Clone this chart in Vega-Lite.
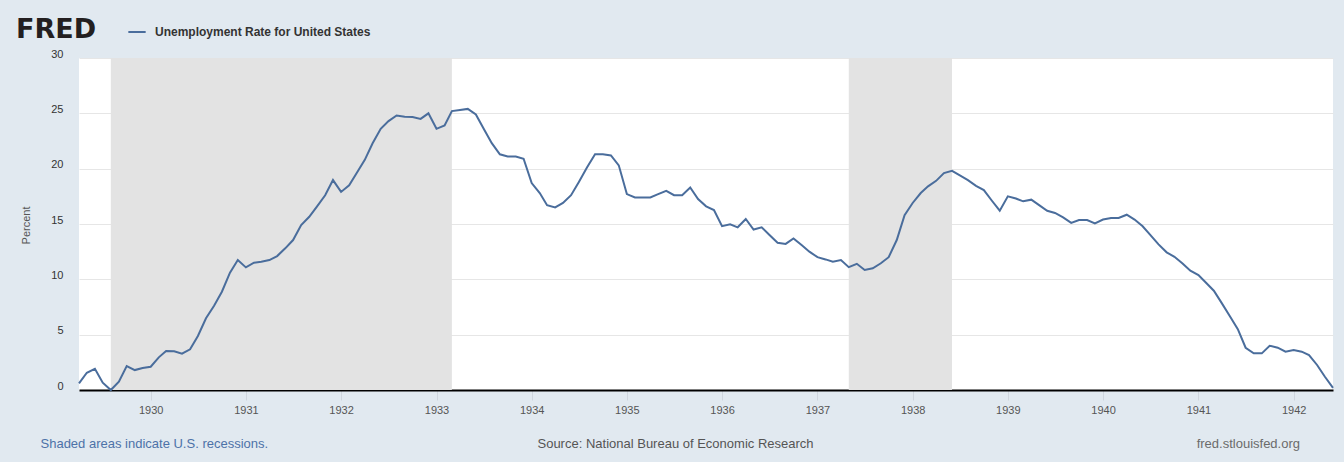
{
  "$schema": "https://vega.github.io/schema/vega-lite/v6.json",
  "width": 1254,
  "height": 332,
  "autosize": {"type": "none"},
  "padding": {"left": 79, "top": 58, "right": 11, "bottom": 72},
  "background": "#e1e9f0",
  "view": {"fill": "#ffffff", "stroke": null},
  "config": {"font": "Liberation Sans"},
  "title": {
    "text": "fred.stlouisfed.org",
    "orient": "bottom",
    "anchor": "end",
    "frame": "group",
    "fontSize": 13,
    "fontWeight": "normal",
    "color": "#6b6b6b",
    "dx": -33,
    "offset": -12
  },
  "datasets": {
    "rec": [
      {"start": "1929-08-01", "end": "1933-03-01"},
      {"start": "1937-05-01", "end": "1938-06-01"}
    ],
    "ur": [
      {"date": "1929-04-01", "value": 0.6},
      {"date": "1929-05-01", "value": 1.56},
      {"date": "1929-06-01", "value": 1.92},
      {"date": "1929-07-01", "value": 0.66},
      {"date": "1929-08-01", "value": 0.0},
      {"date": "1929-09-01", "value": 0.75},
      {"date": "1929-10-01", "value": 2.17},
      {"date": "1929-11-01", "value": 1.8},
      {"date": "1929-12-01", "value": 1.99},
      {"date": "1930-01-01", "value": 2.1},
      {"date": "1930-02-01", "value": 2.95},
      {"date": "1930-03-01", "value": 3.52},
      {"date": "1930-04-01", "value": 3.5},
      {"date": "1930-05-01", "value": 3.28},
      {"date": "1930-06-01", "value": 3.68},
      {"date": "1930-07-01", "value": 4.88},
      {"date": "1930-08-01", "value": 6.48},
      {"date": "1930-09-01", "value": 7.62},
      {"date": "1930-10-01", "value": 8.88},
      {"date": "1930-11-01", "value": 10.6},
      {"date": "1930-12-01", "value": 11.74},
      {"date": "1931-01-01", "value": 11.08},
      {"date": "1931-02-01", "value": 11.5},
      {"date": "1931-03-01", "value": 11.59},
      {"date": "1931-04-01", "value": 11.74},
      {"date": "1931-05-01", "value": 12.1},
      {"date": "1931-06-01", "value": 12.8},
      {"date": "1931-07-01", "value": 13.55},
      {"date": "1931-08-01", "value": 14.9},
      {"date": "1931-09-01", "value": 15.65},
      {"date": "1931-10-01", "value": 16.6},
      {"date": "1931-11-01", "value": 17.6},
      {"date": "1931-12-01", "value": 18.97},
      {"date": "1932-01-01", "value": 17.9},
      {"date": "1932-02-01", "value": 18.5},
      {"date": "1932-03-01", "value": 19.6},
      {"date": "1932-04-01", "value": 20.8},
      {"date": "1932-05-01", "value": 22.3},
      {"date": "1932-06-01", "value": 23.6},
      {"date": "1932-07-01", "value": 24.3},
      {"date": "1932-08-01", "value": 24.8},
      {"date": "1932-09-01", "value": 24.7},
      {"date": "1932-10-01", "value": 24.66},
      {"date": "1932-11-01", "value": 24.5},
      {"date": "1932-12-01", "value": 25.0},
      {"date": "1933-01-01", "value": 23.6},
      {"date": "1933-02-01", "value": 23.9},
      {"date": "1933-03-01", "value": 25.2},
      {"date": "1933-04-01", "value": 25.3},
      {"date": "1933-05-01", "value": 25.4},
      {"date": "1933-06-01", "value": 24.9},
      {"date": "1933-07-01", "value": 23.6},
      {"date": "1933-08-01", "value": 22.3},
      {"date": "1933-09-01", "value": 21.3},
      {"date": "1933-10-01", "value": 21.1},
      {"date": "1933-11-01", "value": 21.1},
      {"date": "1933-12-01", "value": 20.9},
      {"date": "1934-01-01", "value": 18.7},
      {"date": "1934-02-01", "value": 17.8},
      {"date": "1934-03-01", "value": 16.7},
      {"date": "1934-04-01", "value": 16.5},
      {"date": "1934-05-01", "value": 16.9},
      {"date": "1934-06-01", "value": 17.6},
      {"date": "1934-07-01", "value": 18.8},
      {"date": "1934-08-01", "value": 20.1},
      {"date": "1934-09-01", "value": 21.3},
      {"date": "1934-10-01", "value": 21.3},
      {"date": "1934-11-01", "value": 21.2},
      {"date": "1934-12-01", "value": 20.3},
      {"date": "1935-01-01", "value": 17.7},
      {"date": "1935-02-01", "value": 17.4},
      {"date": "1935-03-01", "value": 17.4},
      {"date": "1935-04-01", "value": 17.4},
      {"date": "1935-05-01", "value": 17.7},
      {"date": "1935-06-01", "value": 18.0},
      {"date": "1935-07-01", "value": 17.6},
      {"date": "1935-08-01", "value": 17.6},
      {"date": "1935-09-01", "value": 18.3},
      {"date": "1935-10-01", "value": 17.25},
      {"date": "1935-11-01", "value": 16.6},
      {"date": "1935-12-01", "value": 16.26},
      {"date": "1936-01-01", "value": 14.8},
      {"date": "1936-02-01", "value": 14.97},
      {"date": "1936-03-01", "value": 14.7},
      {"date": "1936-04-01", "value": 15.45},
      {"date": "1936-05-01", "value": 14.5},
      {"date": "1936-06-01", "value": 14.7},
      {"date": "1936-07-01", "value": 14.0},
      {"date": "1936-08-01", "value": 13.3},
      {"date": "1936-09-01", "value": 13.2},
      {"date": "1936-10-01", "value": 13.7},
      {"date": "1936-11-01", "value": 13.1},
      {"date": "1936-12-01", "value": 12.5},
      {"date": "1937-01-01", "value": 12.0},
      {"date": "1937-02-01", "value": 11.8},
      {"date": "1937-03-01", "value": 11.6},
      {"date": "1937-04-01", "value": 11.74},
      {"date": "1937-05-01", "value": 11.1},
      {"date": "1937-06-01", "value": 11.4},
      {"date": "1937-07-01", "value": 10.84},
      {"date": "1937-08-01", "value": 11.0},
      {"date": "1937-09-01", "value": 11.45},
      {"date": "1937-10-01", "value": 12.0},
      {"date": "1937-11-01", "value": 13.55},
      {"date": "1937-12-01", "value": 15.8},
      {"date": "1938-01-01", "value": 16.9},
      {"date": "1938-02-01", "value": 17.8},
      {"date": "1938-03-01", "value": 18.4},
      {"date": "1938-04-01", "value": 18.9},
      {"date": "1938-05-01", "value": 19.6},
      {"date": "1938-06-01", "value": 19.8},
      {"date": "1938-07-01", "value": 19.4},
      {"date": "1938-08-01", "value": 18.97},
      {"date": "1938-09-01", "value": 18.45},
      {"date": "1938-10-01", "value": 18.07},
      {"date": "1938-11-01", "value": 17.1},
      {"date": "1938-12-01", "value": 16.2},
      {"date": "1939-01-01", "value": 17.5},
      {"date": "1939-02-01", "value": 17.3},
      {"date": "1939-03-01", "value": 17.05},
      {"date": "1939-04-01", "value": 17.2},
      {"date": "1939-05-01", "value": 16.7},
      {"date": "1939-06-01", "value": 16.2},
      {"date": "1939-07-01", "value": 16.0},
      {"date": "1939-08-01", "value": 15.6},
      {"date": "1939-09-01", "value": 15.1},
      {"date": "1939-10-01", "value": 15.36},
      {"date": "1939-11-01", "value": 15.36},
      {"date": "1939-12-01", "value": 15.06},
      {"date": "1940-01-01", "value": 15.4},
      {"date": "1940-02-01", "value": 15.54},
      {"date": "1940-03-01", "value": 15.54},
      {"date": "1940-04-01", "value": 15.84},
      {"date": "1940-05-01", "value": 15.4},
      {"date": "1940-06-01", "value": 14.8},
      {"date": "1940-07-01", "value": 14.0},
      {"date": "1940-08-01", "value": 13.16},
      {"date": "1940-09-01", "value": 12.44},
      {"date": "1940-10-01", "value": 12.04},
      {"date": "1940-11-01", "value": 11.44},
      {"date": "1940-12-01", "value": 10.78},
      {"date": "1941-01-01", "value": 10.39},
      {"date": "1941-02-01", "value": 9.64},
      {"date": "1941-03-01", "value": 8.97},
      {"date": "1941-04-01", "value": 7.83},
      {"date": "1941-05-01", "value": 6.68},
      {"date": "1941-06-01", "value": 5.5},
      {"date": "1941-07-01", "value": 3.82},
      {"date": "1941-08-01", "value": 3.31},
      {"date": "1941-09-01", "value": 3.31},
      {"date": "1941-10-01", "value": 4.0},
      {"date": "1941-11-01", "value": 3.82},
      {"date": "1941-12-01", "value": 3.46},
      {"date": "1942-01-01", "value": 3.61},
      {"date": "1942-02-01", "value": 3.46},
      {"date": "1942-03-01", "value": 3.16},
      {"date": "1942-04-01", "value": 2.26},
      {"date": "1942-05-01", "value": 1.2},
      {"date": "1942-06-01", "value": 0.2}
    ]
  },
  "layer": [
    {
      "data": {"name": "rec"},
      "mark": {"type": "rect", "color": "#e3e3e3"},
      "encoding": {
        "x": {
          "field": "start",
          "type": "temporal",
          "scale": {
            "type": "utc",
            "domain": [
              {"year": 1929, "month": 4, "date": 1, "utc": true},
              {"year": 1942, "month": 6, "date": 1, "utc": true}
            ]
          },
          "axis": {
            "orient": "bottom",
            "labels": false,
            "ticks": false,
            "domain": false,
            "grid": false,
            "title": "Shaded areas indicate U.S. recessions.",
            "titleColor": "#4d72a8",
            "titleFontSize": 13,
            "titleFontWeight": "normal",
            "titleX": -39,
            "titleY": 53,
            "titleAlign": "left",
            "titleAnchor": "start",
            "titleBaseline": "middle"
          }
        },
        "x2": {"field": "end"}
      }
    },
    {
      "data": {"name": "ur"},
      "mark": {"type": "line", "strokeWidth": 2, "color": "#4a6d9c"},
      "encoding": {
        "x": {
          "field": "date",
          "type": "temporal",
          "scale": {"type": "utc"},
          "axis": {
            "orient": "bottom",
            "format": "%Y",
            "tickCount": {"interval": "year", "step": 1},
            "labelFontSize": 11,
            "labelColor": "#555555",
            "labelPadding": 4,
            "tickSize": 10,
            "tickColor": "#cfd6de",
            "domain": true,
            "domainColor": "#000000",
            "domainWidth": 2,
            "grid": false,
            "title": "Source: National Bureau of Economic Research",
            "titleFontSize": 13,
            "titleFontWeight": "normal",
            "titleColor": "#555555",
            "titleX": 596,
            "titleY": 53,
            "titleAlign": "center",
            "titleBaseline": "middle"
          }
        },
        "y": {
          "field": "value",
          "type": "quantitative",
          "scale": {"domain": [0, 30], "nice": false, "zero": true},
          "axis": {
            "values": [0, 5, 10, 15, 20, 25, 30],
            "grid": true,
            "gridColor": "#e6e6e6",
            "domain": false,
            "ticks": false,
            "labelPadding": 16,
            "labelFontSize": 11,
            "labelColor": "#333333",
            "labelOffset": -4,
            "title": "Percent",
            "titleFontSize": 11,
            "titleFontWeight": "normal",
            "titleColor": "#555555",
            "titleX": -53,
            "titleY": 167,
            "titleAngle": -90,
            "titleAlign": "center",
            "titleBaseline": "middle"
          }
        },
        "color": {
          "datum": "Unemployment Rate for United States",
          "scale": {"range": ["#4a6d9c"]},
          "legend": {
            "title": "FRED",
            "orient": "none",
            "legendX": -63,
            "legendY": -36,
            "titleOrient": "left",
            "titleAnchor": "middle",
            "titleBaseline": "middle",
            "titleFontSize": 27,
            "titleFont": "DejaVu Sans",
            "titleFontWeight": "bold",
            "titleColor": "#231f20",
            "titlePadding": 30,
            "symbolType": "stroke",
            "symbolStrokeWidth": 2,
            "symbolSize": 300,
            "labelFontSize": 12,
            "labelFontWeight": "bold",
            "labelColor": "#333333",
            "labelOffset": 8,
            "labelLimit": 0,
            "padding": 0
          }
        }
      }
    }
  ],
  "resolve": {"axis": {"x": "independent"}}
}
